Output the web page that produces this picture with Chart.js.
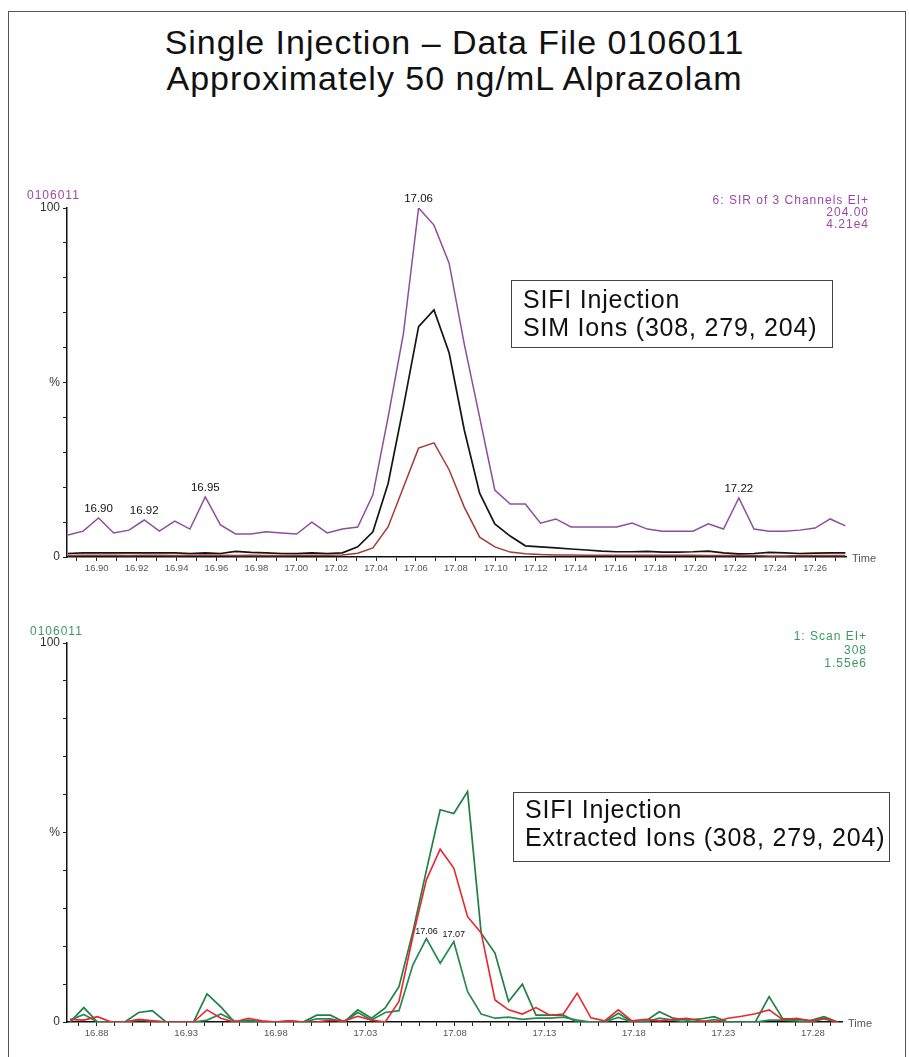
<!DOCTYPE html>
<html>
<head>
<meta charset="utf-8">
<script src="https://cdn.jsdelivr.net/npm/chart.js@4.4.0/dist/chart.umd.min.js"></script>
<style>
body { margin: 0; background: #fff; font-family: "Liberation Sans", Arial, sans-serif; }
#page { position: relative; width: 909px; height: 1057px; overflow: hidden; }
#frame { position: absolute; left: 8px; top: 11px; width: 896px; height: 1100px; border: 1px solid #555; }
.title { position: absolute; left: 0; width: 909px; text-align: center; font-size: 34px; line-height: 36px; color: #111; letter-spacing: 1px; }
.box { position: absolute; box-sizing: border-box; border: 1.5px solid #444; font-size: 25px; line-height: 28px; letter-spacing: 0.8px; color: #111; padding-left: 11px; }
.tag { position: absolute; font-size: 12px; line-height: 12px; letter-spacing: 1px; white-space: nowrap; }
canvas { position: absolute; left: 0; }
</style>
</head>
<body>
<div id="page">
  <div id="frame"></div>
  <div class="title" style="top:24px">Single Injection – Data File 0106011</div>
  <div class="title" style="top:60px">Approximately 50 ng/mL Alprazolam</div>

  <canvas id="topChart" width="909" height="395" style="top:190px"></canvas>
  <canvas id="bottomChart" width="909" height="432" style="top:625px"></canvas>

  <div class="tag" style="left:27px;top:189px;color:#9a4aa6">0106011</div>
  <div class="tag" style="right:40px;top:194px;text-align:right;color:#9a4aa6">6: SIR of 3 Channels EI+<br>204.00<br>4.21e4</div>
  <div class="box" style="left:511px;top:280px;width:322px;height:68px;padding-top:4px">SIFI Injection<br>SIM Ions (308, 279, 204)</div>

  <div class="tag" style="left:30px;top:625px;color:#3c9a60">0106011</div>
  <div class="tag" style="right:42px;top:630px;text-align:right;line-height:13.5px;color:#3c9a60">1: Scan EI+<br>308<br>1.55e6</div>
  <div class="box" style="left:513px;top:792px;width:377px;height:70px;padding-top:2px">SIFI Injection<br>Extracted Ions (308, 279, 204)</div>
</div>

<script>
// top chart: SIR channels, time in min, intensity in %
const topTime = [16.8856, 16.8932, 16.9009, 16.9085, 16.9162, 16.9238, 16.9314, 16.9391, 16.9467, 16.9544,
    16.9620, 16.9696, 16.9773, 16.9849, 16.9926, 17.0002, 17.0078, 17.0155, 17.0231, 17.0308,
    17.0384, 17.0460, 17.0537, 17.0613, 17.0690, 17.0766, 17.0842, 17.0919, 17.0995, 17.1072,
    17.1148, 17.1224, 17.1301, 17.1377, 17.1454, 17.1530, 17.1606, 17.1683, 17.1759, 17.1836,
    17.1912, 17.1988, 17.2065, 17.2141, 17.2218, 17.2294, 17.2370, 17.2447, 17.2523, 17.2600,
    17.2676, 17.2752];
const sir204 = [6.3, 7.4, 11.2, 6.9, 7.7, 10.6, 7.4, 10.3, 8.0, 17.2,
    9.2, 6.6, 6.6, 7.2, 6.9, 6.6, 10.0, 6.9, 8.0, 8.6,
    17.8, 40, 64, 100, 95.1, 84.2, 61, 40, 19.2, 15.2,
    15.2, 9.7, 10.9, 8.6, 8.6, 8.6, 8.6, 9.7, 8.0, 7.4,
    7.4, 7.4, 9.5, 8.0, 16.9, 8.0, 7.4, 7.4, 7.7, 8.3,
    10.9, 8.9];
const sirBlack = [1.0, 1.2, 1.2, 1.2, 1.2, 1.2, 1.2, 1.2, 1.0, 1.2,
    1.0, 1.6, 1.3, 1.2, 1.0, 1.0, 1.2, 1.0, 1.2, 2.9,
    7.2, 21, 43, 66, 70.8, 58.5, 36.4, 18.3, 9.5, 6.0,
    3.2, 2.9, 2.6, 2.3, 2.0, 1.7, 1.5, 1.5, 1.6, 1.4,
    1.4, 1.5, 1.7, 1.2, 0.9, 1.0, 1.3, 1.2, 1.0, 1.1,
    1.2, 1.2];
const sirMaroon = [0.4, 0.5, 0.5, 0.5, 0.4, 0.5, 0.5, 0.4, 0.5, 0.6,
    0.5, 0.4, 0.5, 0.4, 0.4, 0.5, 0.5, 0.5, 0.6, 1.1,
    2.6, 8.6, 20, 31.2, 32.7, 25, 14.3, 5.7, 2.9, 1.4,
    0.9, 0.7, 0.6, 0.6, 0.5, 0.5, 0.5, 0.5, 0.5, 0.5,
    0.5, 0.5, 0.4, 0.4, 0.4, 0.4, 0.3, 0.3, 0.4, 0.4,
    0.4, 0.4];
const topPeakIdx = [2, 5, 9, 23, 44];
const topPeakText = ['16.90', '16.92', '16.95', '17.06', '17.22'];

// bottom chart: extracted ions from scan
const botTime = [16.8651, 16.8728, 16.8804, 16.8881, 16.8957, 16.9034, 16.9110, 16.9187, 16.9263, 16.9340,
    16.9416, 16.9493, 16.9569, 16.9646, 16.9723, 16.9799, 16.9876, 16.9952, 17.0029, 17.0105,
    17.0182, 17.0258, 17.0335, 17.0411, 17.0488, 17.0565, 17.0641, 17.0718, 17.0794, 17.0871,
    17.0947, 17.1024, 17.1100, 17.1177, 17.1253, 17.1330, 17.1406, 17.1483, 17.1560, 17.1636,
    17.1713, 17.1789, 17.1866, 17.1942, 17.2019, 17.2095, 17.2172, 17.2248, 17.2325, 17.2402,
    17.2478, 17.2555, 17.2631, 17.2708, 17.2784, 17.2861, 17.2937];
const ionGreenTall = [0, 3.8, 0, 0, 0, 2.5, 3.0, 0, 0, 0,
    7.4, 4.0, 0, 0.5, 0, 0, 0.3, 0, 1.8, 1.8,
    0, 3.2, 1.0, 3.7, 9.3, 23.7, 40, 56, 55, 60.8,
    23.4, 18.2, 5.4, 10, 1.8, 1.8, 1.8, 0, 0, 0,
    2.3, 0, 0.3, 2.7, 1.0, 0.5, 0.8, 1.4, 0, 0,
    0, 6.7, 0.9, 0.7, 0.4, 1.4, 0];
const ionGreenLow = [0.5, 2.0, 0, 0, 0, 0.5, 0.3, 0, 0, 0,
    0.5, 2.1, 0.3, 0, 0, 0, 0, 0, 0.8, 0.8,
    0, 2.5, 0.5, 2.5, 3.0, 15, 22, 15.5, 21.2, 8,
    2.1, 1.0, 1.3, 0.7, 1.0, 1.0, 1.3, 0.5, 0, 0,
    1.2, 0, 0, 1.0, 0.5, 0, 0, 0.6, 0, 0,
    0, 0.5, 0.5, 0.3, 0, 0.8, 0];
const ionRed = [0.7, 0.5, 1.4, 0, 0, 0.7, 0.3, 0, 0, 0,
    3.2, 1.0, 0, 1.0, 0.3, 0, 0.3, 0, 0, 0.5,
    0.3, 1.5, 0.5, 0, 5.4, 22.5, 37.5, 45.6, 40.6, 27.8,
    23.5, 5.8, 3.2, 2.1, 3.8, 1.8, 2.1, 7.6, 1.1, 0.3,
    3.2, 0.3, 0.7, 0.3, 0.7, 1.0, 0.3, 0, 1.0, 1.5,
    2.2, 3.2, 0.6, 1.0, 0.3, 1.0, 0];
const botPeakIdx = [26, 28];
const botPeakText = ['17.06', '17.07'];

function pts(times, vals) {
    return times.map((t, i) => ({ x: t, y: vals[i] }));
}

const annotate = {
    id: 'annotate',
    afterDatasetsDraw(chart, args, opts) {
        let ctx = chart.ctx;
        let xs = chart.scales.x, ys = chart.scales.y;
        ctx.save();
        ctx.fillStyle = '#111';
        ctx.font = opts.font;
        ctx.textAlign = 'center';
        ctx.textBaseline = 'bottom';
        opts.peaks.forEach(p => {
            ctx.fillText(p.text, xs.getPixelForValue(p.x), ys.getPixelForValue(p.y) - 3);
        });
        ctx.font = '11px "Liberation Sans", Arial, sans-serif';
        ctx.fillStyle = '#555';
        ctx.textAlign = 'left';
        ctx.textBaseline = 'middle';
        ctx.fillText('Time', chart.chartArea.right + 6, chart.chartArea.bottom + 2);
        ctx.restore();
    }
};

function makeChart(id, datasets, xMin, xMax, labelEvery, peaks, peakFont, padding) {
    return new Chart(document.getElementById(id), {
        type: 'line',
        data: { datasets: datasets },
        options: {
            responsive: false,
            animation: false,
            layout: { padding: padding },
            plugins: {
                legend: { display: false },
                tooltip: { enabled: false },
                annotate: { peaks: peaks, font: peakFont }
            },
            elements: { point: { radius: 0 }, line: { tension: 0 } },
            scales: {
                x: {
                    type: 'linear',
                    min: xMin,
                    max: xMax,
                    afterFit: s => { s.height = 28; },
                    border: { color: '#111', width: 1.5 },
                    grid: { drawOnChartArea: false, tickLength: 4, tickColor: '#222' },
                    ticks: {
                        stepSize: 0.01,
                        includeBounds: false,
                        autoSkip: false,
                        maxRotation: 0,
                        padding: 2,
                        color: '#555',
                        font: { size: 9.5 },
                        callback: v => labelEvery(Math.round(v * 100)) ? (Math.round(v * 100) / 100).toFixed(2) : ''
                    }
                },
                y: {
                    min: 0,
                    max: 100,
                    afterFit: s => { s.width = 40; },
                    border: { color: '#111', width: 1.5 },
                    grid: { drawOnChartArea: false, tickLength: 4, tickColor: '#222' },
                    ticks: {
                        stepSize: 10,
                        padding: 3,
                        color: '#333',
                        font: { size: 12 },
                        callback: v => v === 100 ? '100' : v === 50 ? '%' : v === 0 ? '0' : ''
                    }
                }
            }
        },
        plugins: [annotate]
    });
}

makeChart('topChart', [
    { data: pts(topTime, sir204), borderColor: '#8f4d9e', borderWidth: 1.5 },
    { data: pts(topTime, sirBlack), borderColor: '#151515', borderWidth: 1.7 },
    { data: pts(topTime, sirMaroon), borderColor: '#a23b33', borderWidth: 1.5 }
], 16.8851, 17.2755, h => h % 2 === 0,
   topPeakIdx.map((k, i) => ({ x: topTime[k], y: sir204[k], text: topPeakText[i] })),
   '11.5px "Liberation Sans", Arial, sans-serif',
   { left: 27, right: 63, top: 18, bottom: 0 });

makeChart('bottomChart', [
    { data: pts(botTime, ionRed), borderColor: '#e8262e', borderWidth: 1.6 },
    { data: pts(botTime, ionGreenLow), borderColor: '#2a8a52', borderWidth: 1.7 },
    { data: pts(botTime, ionGreenTall), borderColor: '#1f7f45', borderWidth: 1.7 }
], 16.8634, 17.2962, h => h % 5 === 3,
   botPeakIdx.map((k, i) => ({ x: botTime[k], y: ionGreenLow[k], text: botPeakText[i] })),
   '9px "Liberation Sans", Arial, sans-serif',
   { left: 27, right: 67, top: 18, bottom: 7 });
</script>
</body>
</html>
